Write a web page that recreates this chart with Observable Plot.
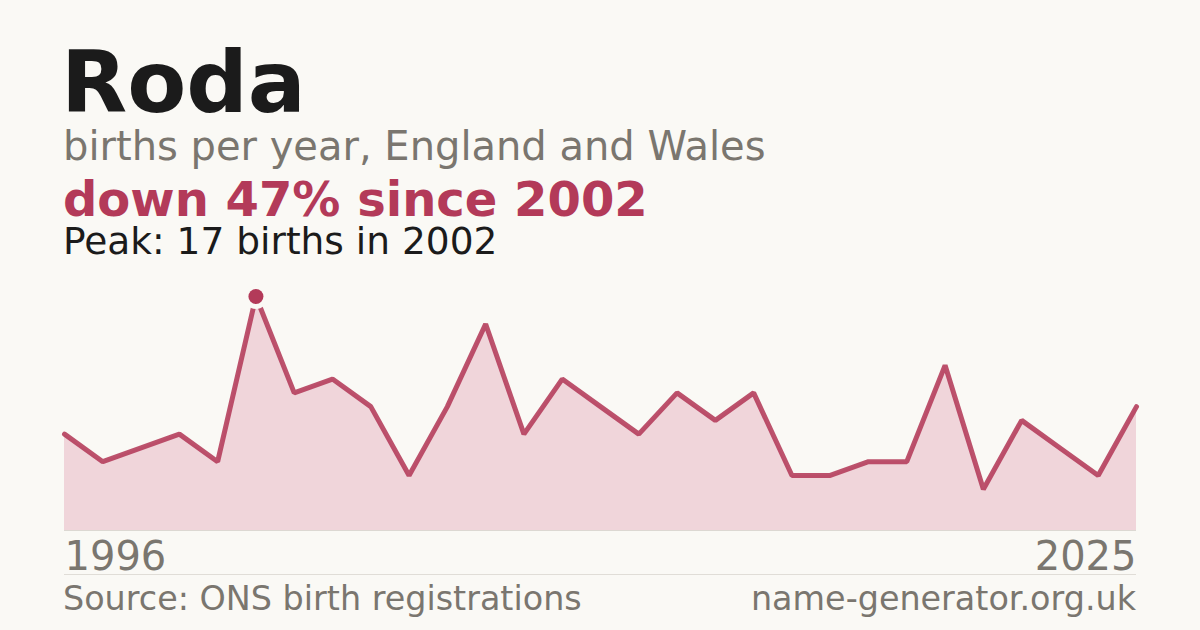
<!DOCTYPE html>
<html>
<head>
<meta charset="utf-8">
<script src="https://cdn.jsdelivr.net/npm/d3@7"></script>
<script src="https://cdn.jsdelivr.net/npm/@observablehq/plot@0.6"></script>
<style>
  html, body { margin: 0; padding: 0; }
  body { width: 1200px; height: 630px; background: #faf9f5; position: relative; overflow: hidden;
         font-family: "DejaVu Sans", sans-serif; }
  .t { position: absolute; left: 63px; white-space: nowrap; line-height: 0.8; }
  #title { top: 48px; font-size: 86px; font-weight: bold; color: #1b1b1b; left: 61px; }
  #sub { top: 130px; font-size: 40px; color: #7a766f; }
  #head { top: 180px; font-size: 48px; font-weight: bold; color: #b33a59; }
  #peak { top: 226px; font-size: 37.5px; color: #1b1b1b; }
  #chart { position: absolute; left: 0; top: 280px; }
  #sep { position: absolute; left: 64px; width: 1072px; top: 574px; height: 1px; background: #e0ddd7; }
  #src { top: 585.5px; font-size: 33.4px; color: #7a766f; }
  #site { top: 585.5px; font-size: 33.4px; color: #7a766f; left: auto; right: 64px; }
</style>
</head>
<body>
<div class="t" id="title">Roda</div>
<div class="t" id="sub">births per year, England and Wales</div>
<div class="t" id="head">down 47% since 2002</div>
<div class="t" id="peak">Peak: 17 births in 2002</div>
<div id="chart"></div>
<div id="sep"></div>
<div class="t" id="src">Source: ONS birth registrations</div>
<div class="t" id="site">name-generator.org.uk</div>
<script>
const years  = [1996, 1997, 1998, 1999, 2000, 2002, 2003, 2004, 2005, 2006, 2007, 2008, 2009, 2010, 2011,
                2012, 2013, 2014, 2015, 2016, 2017, 2018, 2019, 2020, 2021, 2022, 2023, 2024, 2025];
const births = [7, 5, 6, 7, 5, 17, 10, 11, 9, 4, 9, 15, 7, 11, 9,
                7, 10, 8, 10, 4, 4, 5, 5, 12, 3, 8, 6, 4, 9];
const peakYear = 2002;
const peakValue = 17;
const tickYears = [1996, 2025];

const data = years.map((y, i) => ({year: y, births: births[i]}));
const peak = [{year: peakYear, births: peakValue}];

const bg = "#faf9f5";
const red = "#b33a59";

const chart = Plot.plot({
  width: 1200,
  height: 300,
  marginLeft: 64,
  marginRight: 64,
  marginTop: 16,
  marginBottom: 50,
  style: {background: "transparent", fontFamily: "DejaVu Sans, sans-serif"},
  x: {type: "point", domain: years, padding: 0, round: false, axis: null},
  y: {domain: [0, peakValue], axis: null},
  marks: [
    Plot.areaY(data, {x: "year", y: "births", fill: "#f0d5da"}),
    Plot.ruleY([0], {stroke: "#dcd8d2", strokeWidth: 1}),
    Plot.lineY(data, {x: "year", y: "births", stroke: red, strokeWidth: 5, strokeLinejoin: "miter", strokeOpacity: 0.88}),
    Plot.dot(peak, {x: "year", y: "births", r: 12.5, fill: bg}),
    Plot.dot(peak, {x: "year", y: "births", r: 7.5, fill: red}),
    Plot.text([tickYears[0]], {x: d => d, y: () => 0, text: d => String(d), textAnchor: "start", lineAnchor: "top", dy: 11, fontSize: 40, fill: "#7a766f"}),
    Plot.text([tickYears[1]], {x: d => d, y: () => 0, text: d => String(d), textAnchor: "end", lineAnchor: "top", dy: 11, fontSize: 40, fill: "#7a766f"})
  ]
});
document.getElementById("chart").appendChild(chart);
</script>
</body>
</html>
